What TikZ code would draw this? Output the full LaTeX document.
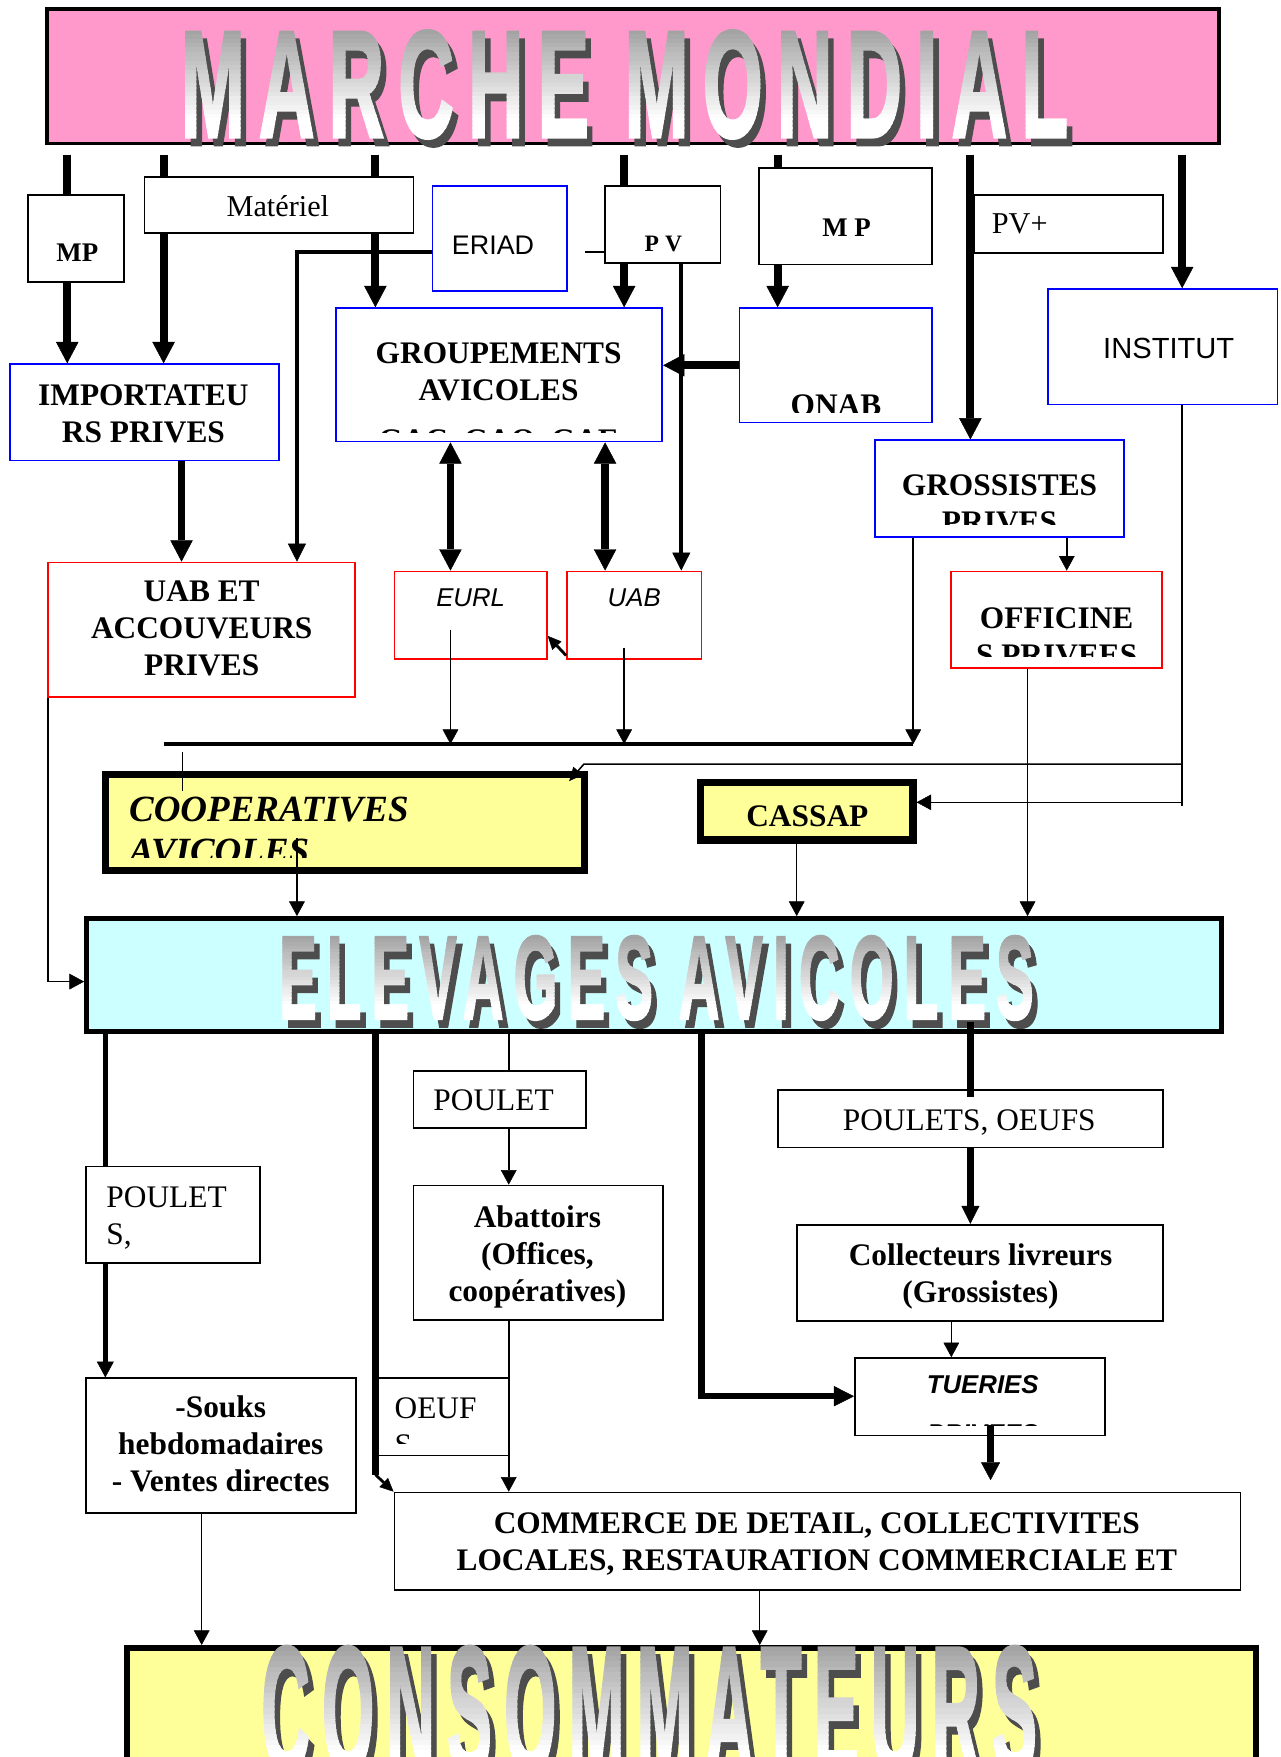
\documentclass[tikz,border=0pt]{standalone}
\usepackage{fontspec}
\setmainfont{Liberation Serif}
\setsansfont{Liberation Sans}
\newfontfamily\wafont{Liberation Sans}[LetterSpace=18, FakeBold=2]
\usetikzlibrary{arrows.meta,fit,calc}
\pgfdeclarelayer{bg}
\pgfsetlayers{bg,main}

\definecolor{pinkbox}{HTML}{FF99CC}
\definecolor{cyanbox}{HTML}{CCFFFF}
\definecolor{yellowbox}{HTML}{FFFF99}
\definecolor{wadark}{HTML}{4D4D4D}
\definecolor{linkblue}{HTML}{0000FF}
\definecolor{linkred}{HTML}{FF0000}

\tikzset{
  box/.style={draw, fill=white, line width=1.6pt, inner sep=0pt},
  bluebox/.style={box, draw=linkblue},
  redbox/.style={box, draw=linkred},
  heavybox/.style={draw, fill=yellowbox, line width=6.5pt, inner sep=0pt},
  txt/.style={inner sep=0pt, anchor=north, align=center},
  f28b/.style={font={\fontsize{28}{33}\selectfont\bfseries}},
  f28/.style={font={\fontsize{28}{33}\selectfont}},
  wa/.style={inner sep=0pt, anchor=north west, font=\wafont\bfseries},
  heavy/.style={line width=7pt},
  thinline/.style={line width=1.4pt},
  bigtip/.style={-{Triangle[width=20pt,length=19pt,line width=0.4pt]}},
  midtip/.style={-{Triangle[width=16pt,length=16pt,line width=0.4pt]}},
  thintip/.style={-{Triangle[width=14pt,length=13pt,line width=0.4pt]}},
  smalltip/.style={-{Triangle[width=11pt,length=12pt,line width=0.4pt]}},
}

% Shadowed title lettering with a grey-to-white vertical gradient
\newcommand\wordart[6]{% name, left, top, width, height, text
  \node[wa, text=wadark] (#1s) at ({#2+5},{#3+7}) {\resizebox{#4pt}{#5pt}{#6}};
  \foreach \k in {0,...,23}{%
    \pgfmathsetmacro\wya{#3+\k*#5/24-(\k==0)*8}%
    \pgfmathsetmacro\wyb{#3+(\k+1)*#5/24+0.5+(\k==23)*8}%
    \pgfmathtruncatemacro\wsh{max(0,36-\k*1.8)}%
    \begin{scope}
      \clip ({#2-4},\wya) rectangle ({#2+#4+4},\wyb);
      \node[wa, text=black!\wsh] (#1\k) at (#2,#3) {\resizebox{#4pt}{#5pt}{#6}};
    \end{scope}
  }%
}

\begin{document}
\begin{tikzpicture}[x=1pt, y=-1pt]
\useasboundingbox (0,0) rectangle (1143,1568);
\begin{pgfonlayer}{bg}
  \fill[white] (0,0) rectangle (1143,1568);
\end{pgfonlayer}

% ---------- world market ----------
\node[box, fill=pinkbox, line width=3pt, fit={(42,8) (1088,128)}] (mm) {};
\wordart{mmw}{161}{27}{792}{95}{MARCHE MONDIAL}

% ---------- flow labels under the world market ----------
\node[box, fit={(25,174) (111,252)}] (mpl) {};
\node[txt, font={\fontsize{24}{28}\selectfont\bfseries}] (mplt) at (69,213.9) {\strut MP};
\node[box, fit={(129,158) (369,208)}] (mat) {};
\node[txt, font={\fontsize{27}{31}\selectfont}] (matt) at (248,171.3) {\strut Matériel};
\node[bluebox, fit={(386,166) (506,260)}] (eriad) {};
\node[txt, font={\sffamily\fontsize{24}{28}\selectfont}] (eriadt) at (440,207.4) {\strut ERIAD};
\node[box, fit={(540,166) (643,235)}] (pv) {};
\node[txt, font={\fontsize{21}{25}\selectfont\bfseries}] (pvt) at (592,206.5) {\strut P V};
\node[box, fit={(677,150) (832,236)}] (mpr) {};
\node[txt, font={\fontsize{24}{28}\selectfont\bfseries}] (mprt) at (755.5,190.9) {\strut M P};
\node[box, fit={(869,174) (1038,226)}] (pvp) {};
\node[txt, anchor=north west, font={\fontsize{27}{31}\selectfont}] (pvpt) at (885,186.3) {\strut PV+};
\node[bluebox, fit={(935,258) (1140,361)}] (inst) {};
\node[txt, font={\sffamily\fontsize{26}{30}\selectfont}] (instt) at (1043,299) {\strut INSTITUT};

% ---------- importers, groupings, offices ----------
\node[bluebox, fit={(9,325) (249,411)}] (imp) {};
\node[txt, f28b] (impt) at (128,338.4) {\strut IMPORTATEU\\\strut RS PRIVES};
\node[bluebox, fit={(300,275) (591,394)}] (grp) {};
\node[txt, f28b] (grpt) at (445,300.9) {\strut GROUPEMENTS\\\strut AVICOLES};
\begin{scope}
  \clip (302,370) rectangle (589,386);
  \node[txt, f28b] (grps) at (445,378.9) {\strut GAC, GAO, GAE};
\end{scope}
\node[bluebox, fit={(660,275) (832,377)}] (onab) {};
\begin{scope}
  \clip (662,330) rectangle (830,368);
  \node[txt, f28b] (onabt) at (746,347.4) {\strut ONAB};
\end{scope}
\node[bluebox, fit={(781,393) (1003,479)}] (gros) {};
\begin{scope}
  \clip (783,395) rectangle (1001,468.5);
  \node[txt, f28b] (grost) at (892,418.9) {\strut GROSSISTES\\\strut PRIVES};
\end{scope}

% ---------- hatcheries and private units ----------
\node[redbox, fit={(43,502) (317,622)}] (uabet) {};
\node[txt, f28b] (uabett) at (180,513.9) {\strut UAB ET\\\strut ACCOUVEURS\\\strut PRIVES};
\node[redbox, fit={(352,510) (488,588)}] (eurl) {};
\node[txt, font={\sffamily\itshape\fontsize{23}{27}\selectfont}] (eurlt) at (420,522.1) {\strut EURL};
\node[redbox, fit={(506,510) (626,588)}] (uab) {};
\node[txt, font={\sffamily\itshape\fontsize{23}{27}\selectfont}] (uabt) at (566,522.1) {\strut UAB};
\node[redbox, fit={(849,510) (1037,596)}] (off) {};
\begin{scope}
  \clip (851,512) rectangle (1035,586);
  \node[txt, f28b] (offt) at (943,537.4) {\strut OFFICINE\\\strut S PRIVEES};
\end{scope}

% ---------- support bodies ----------
\node[heavybox, fit={(94.25,691.25) (521.75,776.75)}] (coop) {};
\begin{scope}
  \clip (98,695) rectangle (518,765);
  \node[txt, anchor=north west, align=left, font={\fontsize{33}{37}\selectfont\bfseries\itshape}] (coopt) at (115,707.1) {\strut COOPERATIVES\\\strut AVICOLES};
\end{scope}
\node[heavybox, fit={(625.25,698.25) (814.75,749.75)}] (cass) {};
\node[txt, f28b] (casst) at (720.5,713.9) {\strut CASSAP};

% ---------- poultry farms ----------
\node[draw, fill=cyanbox, line width=4.5pt, inner sep=0pt, fit={(77.25,819.75) (1089.75,920.45)}] (elev) {};
\wordart{elevw}{249}{835}{673}{74}{ELEVAGES AVICOLES}

% ---------- distribution ----------
\node[box, fit={(369,956) (523,1007)}] (poul) {};
\node[txt, f28] (poult) at (440.5,967.9) {\strut POULET};
\node[box, fit={(694,973) (1038,1024)}] (po) {};
\node[txt, f28] (pot) at (865,985.2) {\strut POULETS, OEUFS};
\node[box, fit={(77,1041) (232,1127)}] (pouls) {};
\node[txt, anchor=north west, align=left, f28] (poulst) at (94.8,1054.5) {\strut POULET\\\strut S,};
\node[box, fit={(369,1058) (592,1178)}] (abat) {};
\node[txt, f28b] (abatt) at (479.6,1072.3) {\strut Abattoirs\\\strut (Offices,\\\strut coopératives)};
\node[box, fit={(711,1093) (1038,1179)}] (coll) {};
\node[txt, f28b] (collt) at (875,1105.7) {\strut Collecteurs livreurs\\\strut (Grossistes)};
\node[box, fit={(763,1212) (986,1281)}] (tuer) {};
\begin{scope}
  \clip (765,1214) rectangle (984,1272);
  \node[txt, font={\sffamily\bfseries\itshape\fontsize{23}{44}\selectfont}] (tuert) at (877,1212.2) {\strut TUERIES\\\strut PRIVEES};
\end{scope}
\node[box, fit={(77,1230) (318,1350)}] (souks) {};
\node[txt, f28b] (soukst) at (197,1241.9) {\strut -Souks\\\strut hebdomadaires\\\strut - Ventes directes};
\node[box, fit={(335,1230) (454,1299)}] (oeuf) {};
\begin{scope}
  \clip (337,1232) rectangle (452,1288);
  \node[txt, anchor=north west, align=left, f28] (oeuft) at (352,1242.9) {\strut OEUF\\\strut S};
\end{scope}
\node[box, fit={(352,1332) (1107,1419)}] (com) {};
\node[txt, f28b] (comt) at (729,1344.9) {\strut COMMERCE DE DETAIL, COLLECTIVITES\\\strut LOCALES, RESTAURATION COMMERCIALE ET};

% ---------- consumers ----------
\node[draw, fill=yellowbox, line width=5pt, inner sep=0pt, fit={(113.5,1470.5) (1121,1640)}] (conso) {};
\wordart{consow}{233}{1469}{692}{112}{CONSOMMATEURS}

% ---------- connectors ----------
\coordinate (c1) at (60,138);
\coordinate (c2) at (146,138);
\coordinate (c3) at (335,138);
\coordinate (c4) at (557,138);
\coordinate (c5) at (694,138);
\coordinate (c6) at (866,138);
\coordinate (c7) at (1055,138);
\coordinate (h1) at (94,0);
\begin{pgfonlayer}{bg}
  \draw[heavy, bigtip] (c1) -- (c1 |- imp.north);
  \draw[heavy, bigtip] (c2) -- (c2 |- imp.north);
  \draw[heavy, bigtip] (c3) -- (c3 |- grp.north);
  \draw[heavy, bigtip] (c4) -- (c4 |- grp.north);
  \draw[heavy, bigtip] (c5) -- (c5 |- onab.north);
  \draw[heavy, bigtip] (c6) -- (c6 |- gros.north);
  \draw[heavy, bigtip] (c7) -- (c7 |- inst.north);
  \draw[line width=4.5pt, -{Triangle[width=15pt,length=14pt,line width=0.4pt]}] (h1 |- elev.south) -- (h1 |- souks.north);
\end{pgfonlayer}

% ERIAD towards hatcheries and P V
\coordinate (e1) at (265,225);
\draw[line width=3pt, midtip] (e1 -| eriad.west) -- (e1) -- (e1 |- uabet.north);
\coordinate (e2) at (522,225);
\draw[line width=2pt] (e2) -- (e2 -| pv.west);
\coordinate (p1) at (608,0);
\draw[line width=3.5pt, midtip] (p1 |- pv.south) -- (p1 |- uab.north);

\draw[heavy, bigtip] (onab.west) -- (onab.west -| grp.east);
\coordinate (i1) at (162,0);
\draw[heavy, bigtip] (i1 |- imp.south) -- (i1 |- uabet.north);
\coordinate (d1) at (402,0);
\coordinate (d2) at (540,0);
\draw[heavy, {Triangle[width=20pt,length=19pt,line width=0.4pt]}-{Triangle[width=20pt,length=19pt,line width=0.4pt]}] (d1 |- grp.south) -- (d1 |- eurl.north);
\draw[heavy, {Triangle[width=20pt,length=19pt,line width=0.4pt]}-{Triangle[width=20pt,length=19pt,line width=0.4pt]}] (d2 |- grp.south) -- (d2 |- uab.north);
\coordinate (u1) at (506,585);
\coordinate (u2) at (489,567.5);
\draw[line width=2.5pt, smalltip] (u1 -| uab.west) -- (u2 -| eurl.east);

% collecting bar
\coordinate (barL) at (146,664);
\coordinate (barR) at (815,664);
\draw[line width=3pt] (barL) -- (barR);
\coordinate (f1) at (402,562);
\coordinate (f2) at (557,578);
\draw[thinline, thintip] (f1) -- (f1 |- barR);
\draw[thinline, thintip] (f2) -- (f2 |- barR);
\draw[thinline, thintip] (gros.south -| barR) -- (barR);
\coordinate (k1) at (163,671);
\coordinate (k2) at (163,706);
\draw[thinline] (k1) -- (k2);

% INSTITUT branches
\coordinate (n1) at (1055,682);
\coordinate (n2) at (1055,719);
\coordinate (n3) at (521,682);
\coordinate (n4) at (1055,716);
\coordinate (n5) at (508,697);
\draw[thinline] (inst.south -| n1) -- (n2);
\draw[thinline, smalltip] (n1) -- (n3) -- (n5);
\draw[thinline, thintip] (n4) -- (n4 -| cass.east);

% into the farms
\coordinate (g1) at (952,0);
\coordinate (g2) at (917,0);
\coordinate (g3) at (711,0);
\coordinate (g4) at (265,748);
\coordinate (g5) at (43,876);
\draw[thinline, thintip] (g1 |- gros.south) -- (g1 |- off.north);
\draw[thinline, thintip] (g2 |- off.south) -- (g2 |- elev.north);
\draw[thinline, thintip] (g3 |- cass.south) -- (g3 |- elev.north);
\draw[thinline, thintip] (g4) -- (g4 |- elev.north);
\draw[thinline, thintip] (g5 |- uabet.south) -- (g5) -- (g5 -| elev.west);

% out of the farms
\coordinate (h2) at (335,1316);
\draw[line width=6pt] (h2 |- elev.south) -- (h2);
\draw[line width=2.5pt, smalltip] (h2) -- (com.north west);
\coordinate (h3) at (454,0);
\draw[thinline] (h3 |- elev.south) -- (h3 |- poul.north);
\draw[thinline, thintip] (h3 |- poul.south) -- (h3 |- abat.north);
\draw[thinline, thintip] (h3 |- abat.south) -- (h3 |- com.north);
\coordinate (h4) at (626,1246);
\draw[line width=5.5pt, -{Triangle[width=18pt,length=18pt,line width=0.4pt]}] (h4 |- elev.south) -- (h4) -- (h4 -| tuer.west);
\coordinate (h5) at (866,912);
\coordinate (h6) at (866,979);
\draw[line width=6pt] (h5) -- (h6);
\draw[line width=6pt, midtip] (h5 |- po.south) -- (h5 |- coll.north);
\coordinate (h7) at (849,0);
\draw[thinline, thintip] (h7 |- coll.south) -- (h7 |- tuer.north);
\coordinate (h8) at (884,1272);
\coordinate (h9) at (884,1321);
\draw[line width=6pt, -{Triangle[width=17pt,length=16pt,line width=0.4pt]}] (h8) -- (h9);
\coordinate (h10) at (180,0);
\coordinate (h11) at (678,0);
\draw[line width=1.2pt, thintip] (h10 |- souks.south) -- (h10 |- conso.north);
\draw[line width=1.2pt, thintip] (h11 |- com.south) -- (h11 |- conso.north);
\end{tikzpicture}
\end{document}
